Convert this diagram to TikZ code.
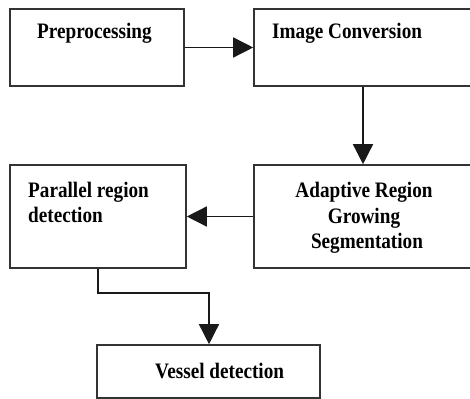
\documentclass[tikz,border=0pt]{standalone}
\usepackage{fontspec}
\setmainfont{Liberation Serif}
\usetikzlibrary{arrows.meta}
\begin{document}
\begin{tikzpicture}[x=1pt,y=-1pt,
  box/.style={draw=black!80, line width=1.6pt, fill=white, inner sep=0, rectangle},
  conn/.style={draw=black!90, line width=1.5pt},
  arr/.style={conn, -{Triangle[length=20pt,width=20pt]}},
  txt/.style={font=\fontsize{19.2}{24}\selectfont\bfseries, inner sep=0, text=black, yscale=1.15, transform shape}]
\useasboundingbox (0,0) rectangle (470,398);
\clip (0,0) rectangle (470,398);
% boxes
\node[box, minimum width=174pt, minimum height=77pt] (pre) at (97,47.5) {};
\node[box, minimum width=226pt, minimum height=77pt] (conv) at (367,47.5) {};
\node[box, minimum width=226pt, minimum height=103pt] (adapt) at (367,216.5) {};
\node[box, minimum width=176pt, minimum height=103pt] (par) at (98,216.5) {};
\node[box, minimum width=223pt, minimum height=53pt] (ves) at (208.5,371.5) {};
% texts
\node[txt, anchor=base west] (preT) at (37,39) {Preprocessing};
\node[txt, anchor=base west] (convT) at (272,39) {Image Conversion};
\node[txt, anchor=base] (adaptA) at (364,197) {Adaptive Region};
\node[txt, anchor=base] (adaptB) at (364,223) {Growing};
\node[txt, anchor=base] (adaptC) at (367,248) {Segmentation};
\node[txt, anchor=base west] (parA) at (28,197) {Parallel region};
\node[txt, anchor=base west] (parB) at (28,222) {detection};
\node[txt, anchor=base west] (vesT) at (155,378) {Vessel detection};
% connectors
\coordinate (cx) at (363,0);
\coordinate (p1) at (98,293);
\coordinate (p2) at (209,0);
\draw[arr] (pre.east) -- (conv.west);
\draw[arr] (conv.south -| cx) -- (adapt.north -| cx);
\draw[arr] (adapt.west) -- (par.east);
\draw[arr] (par.south -| p1) -- (p1) -| (ves.north -| p2);
\end{tikzpicture}
\end{document}
